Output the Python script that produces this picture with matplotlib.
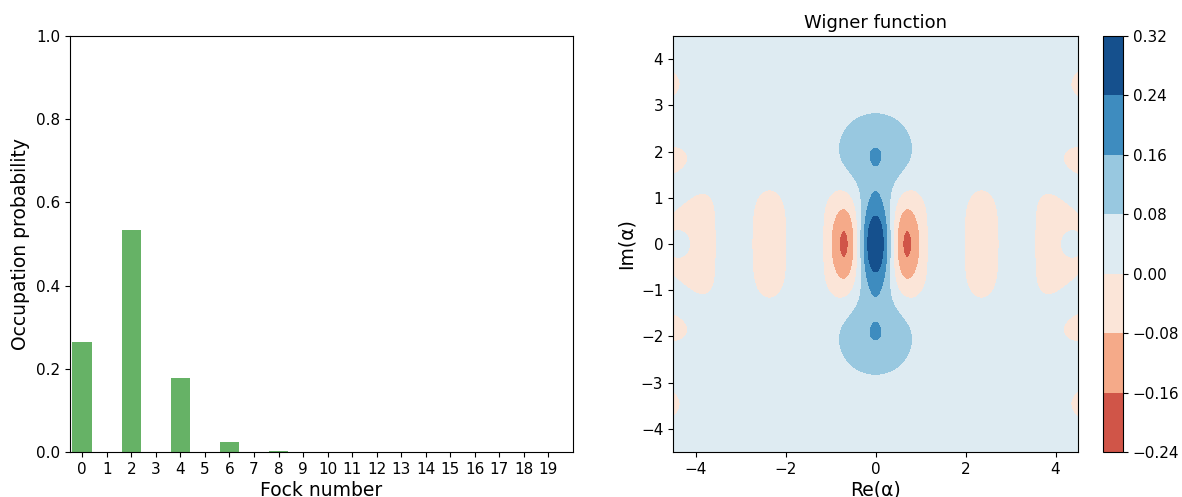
import numpy as np
import matplotlib
matplotlib.use("Agg")
import matplotlib.pyplot as plt
from matplotlib import cm, colors

# ---- data ----
fock_numbers = list(range(20))
occupation = [0.265, 0.0, 0.533, 0.0, 0.177, 0.0, 0.024, 0.0, 0.002, 0.0,
              0.0, 0.0, 0.0, 0.0, 0.0, 0.0, 0.0, 0.0, 0.0, 0.0]
fock_tick_labels = [str(n) for n in fock_numbers]
wigner_xticks = [-4, -2, 0, 2, 4]
wigner_yticks = [-4, -3, -2, -1, 0, 1, 2, 3, 4]

# cat state (|i*sqrt2> + |-i*sqrt2>) in a 20-level Hilbert space, inferred from the distribution
N = 20
cat_alpha = 1j * np.sqrt(2.0)
xvec = np.linspace(-4.5, 4.5, 500)

# ---- build the state ----
a = np.diag(np.sqrt(np.arange(1, N)), 1).astype(complex)
def displace(alpha):
    G = alpha * a.conj().T - np.conj(alpha) * a      # anti-Hermitian
    H = -1j * G                                        # Hermitian
    w, V = np.linalg.eigh(H)
    return V @ np.diag(np.exp(1j * w)) @ V.conj().T
vac = np.zeros(N, complex); vac[0] = 1
psi = displace(cat_alpha) @ vac + displace(-cat_alpha) @ vac
psi /= np.linalg.norm(psi)
rho = np.outer(psi, psi.conj())

def wigner(rho, xvec, yvec, g=np.sqrt(2)):
    M = rho.shape[0]
    X, Y = np.meshgrid(xvec, yvec)
    A = 0.5 * g * (X + 1.0j * Y)
    Wlist = [np.zeros(A.shape, complex) for _ in range(M)]
    Wlist[0] = np.exp(-2.0 * np.abs(A) ** 2) / np.pi
    W = np.real(rho[0, 0]) * np.real(Wlist[0])
    for n in range(1, M):
        Wlist[n] = (2.0 * A * Wlist[n - 1]) / np.sqrt(n)
        W = W + 2 * np.real(rho[0, n] * Wlist[n])
    for m in range(1, M):
        temp = Wlist[m].copy()
        Wlist[m] = (2 * np.conj(A) * temp - np.sqrt(m) * Wlist[m - 1]) / np.sqrt(m)
        W = W + np.real(rho[m, m] * Wlist[m])
        for n in range(m + 1, M):
            temp2 = (2 * A * Wlist[n - 1] - np.sqrt(m) * temp) / np.sqrt(n)
            temp = Wlist[n].copy()
            Wlist[n] = temp2
            W = W + 2 * np.real(rho[m, n] * Wlist[n])
    return 0.5 * W * g ** 2

W = wigner(rho, xvec, xvec)

# ---- figure ----
fig = plt.figure(figsize=(11.82, 4.97), dpi=100)
ax1 = fig.add_axes([70/1182, 1-452/497, (573-70)/1182, (452-36)/497])
ax2 = fig.add_axes([673/1182, 1-452/497, (1078-673)/1182, (452-36)/497])
cax = fig.add_axes([1103/1182, 1-452/497, (1123-1103)/1182, (452-36)/497])

ax1.bar(fock_numbers, occupation, color="green", alpha=0.6, width=0.8)
ax1.set_xticks(fock_numbers)
ax1.set_xticklabels(fock_tick_labels)
ax1.set_xlim(-0.5, N)
ax1.set_ylim(0, 1)
ax1.set_xlabel("Fock number", fontsize=13.5, labelpad=3)
ax1.set_ylabel("Occupation probability", fontsize=13.5)
ax1.tick_params(labelsize=11)

wlim = np.abs(W).max()
cf = ax2.contourf(xvec, xvec, W, norm=colors.Normalize(-wlim, wlim), cmap=cm.RdBu)
ax2.set_xticks(wigner_xticks)
ax2.set_yticks(wigner_yticks)
ax2.set_title("Wigner function", fontsize=13)
ax2.set_xlabel("Re(α)", fontsize=13.5, labelpad=3)
ax2.set_ylabel("Im(α)", fontsize=13.5)
ax2.tick_params(labelsize=11)
cb = fig.colorbar(cf, cax=cax)
cb.ax.tick_params(labelsize=11)

fig.savefig("out.png", dpi=100)
